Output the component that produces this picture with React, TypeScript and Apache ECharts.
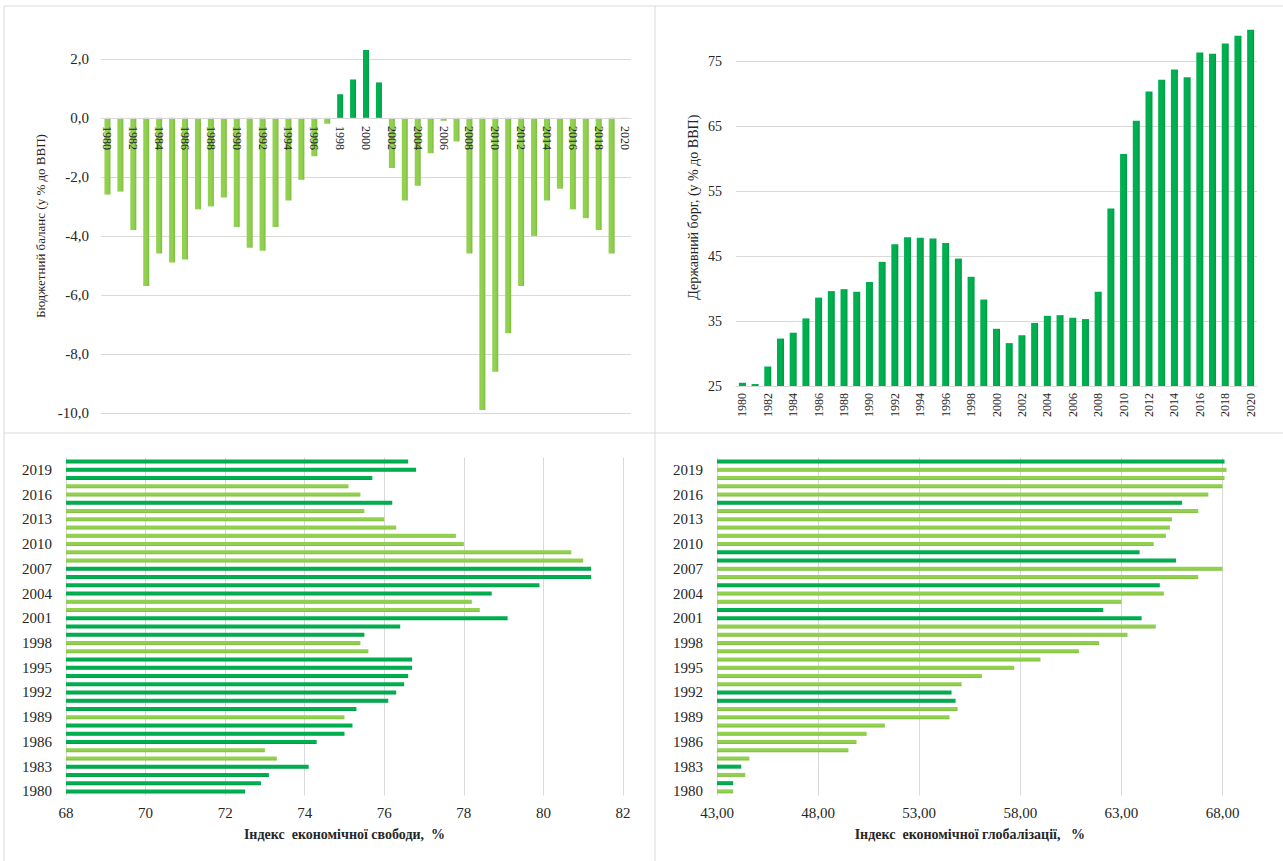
import React, { useEffect, useRef } from "react";
import * as echarts from "echarts";

const years = [
  "1980", "1981", "1982", "1983", "1984", "1985", "1986", "1987", "1988", "1989",
  "1990", "1991", "1992", "1993", "1994", "1995", "1996", "1997", "1998", "1999",
  "2000", "2001", "2002", "2003", "2004", "2005", "2006", "2007", "2008", "2009",
  "2010", "2011", "2012", "2013", "2014", "2015", "2016", "2017", "2018", "2019",
  "2020",
];

const budgetBalance = [
  -2.6, -2.5, -3.8, -5.7, -4.6, -4.9, -4.8, -3.1, -3.0, -2.7,
  -3.7, -4.4, -4.5, -3.7, -2.8, -2.1, -1.3, -0.2, 0.8, 1.3,
  2.3, 1.2, -1.7, -2.8, -2.3, -1.2, -0.1, -0.8, -4.6, -9.9,
  -8.6, -7.3, -5.7, -4.0, -2.8, -2.4, -3.1, -3.4, -3.8, -4.6,
  -0.03,
];

const publicDebt = [
  25.5, 25.3, 28.0, 32.3, 33.2, 35.4, 38.6, 39.6, 39.9, 39.5,
  41.0, 44.1, 46.8, 47.9, 47.8, 47.7, 47.0, 44.6, 41.8, 38.3,
  33.8, 31.6, 32.8, 34.7, 35.8, 35.9, 35.5, 35.3, 39.5, 52.3,
  60.7, 65.8, 70.3, 72.1, 73.7, 72.5, 76.3, 76.1, 77.7, 78.9,
  79.8,
];

const freedomIndex = [
  72.5, 72.9, 73.1, 74.1, 73.3, 73.0, 74.3, 75.0, 75.2, 75.0,
  75.3, 76.1, 76.3, 76.5, 76.6, 76.7, 76.7, 75.6, 75.4, 75.5,
  76.4, 79.1, 78.4, 78.2, 78.7, 79.9, 81.2, 81.2, 81.0, 80.7,
  78.0, 77.8, 76.3, 76.0, 75.5, 76.2, 75.4, 75.1, 75.7, 76.8,
  76.6,
];
const freedomDark = [
  1, 1, 1, 1, 0, 0, 1, 1, 1, 0,
  1, 1, 1, 1, 1, 1, 1, 0, 0, 1,
  1, 1, 0, 0, 1, 1, 1, 1, 0, 0,
  0, 0, 0, 0, 0, 1, 0, 0, 1, 1,
  1,
];

const globalizationIndex = [
  43.8, 43.8, 44.4, 44.2, 44.6, 49.5, 49.9, 50.4, 51.3, 54.5,
  54.9, 54.8, 54.6, 55.1, 56.1, 57.7, 59.0, 60.9, 61.9, 63.3,
  64.7, 64.0, 62.1, 63.0, 65.1, 64.9, 66.8, 68.0, 65.7, 63.9,
  64.6, 65.2, 65.4, 65.5, 66.8, 66.0, 67.3, 68.0, 68.1, 68.2,
  68.1,
];
const globalizationDark = [
  0, 1, 0, 1, 0, 0, 0, 0, 0, 0,
  0, 1, 1, 0, 0, 0, 0, 0, 0, 0,
  0, 1, 1, 0, 0, 1, 0, 0, 1, 1,
  0, 0, 0, 0, 0, 1, 0, 0, 0, 0,
  1,
];

const DARK = "#00B050";
const DARK_EDGE = "#009A44";
const LIGHT = "#92D050";
const LIGHT_EDGE = "#7DBB3C";
const GRID = "#D9D9D9";
const TEXT = "#262626";
const FONT = "'Liberation Serif', 'Times New Roman', serif";

const vGrad = (c1: string, c2: string) =>
  new echarts.graphic.LinearGradient(0, 0, 1, 0, [
    { offset: 0, color: c1 },
    { offset: 0.6, color: c1 },
    { offset: 1, color: c2 },
  ]);
const hGrad = (c1: string, c2: string) =>
  new echarts.graphic.LinearGradient(0, 0, 0, 1, [
    { offset: 0, color: c1 },
    { offset: 0.6, color: c1 },
    { offset: 1, color: c2 },
  ]);

const comma = (d: number) => (v: number) => v.toFixed(d).replace(".", ",");

export default function App() {
  const ref = useRef<HTMLDivElement>(null);
  useEffect(() => {
    if (!ref.current) return;
    const chart = echarts.init(ref.current, undefined, { renderer: "svg" });
    const labelBase = { color: TEXT, fontFamily: FONT };
    const option: any = {
      animation: false,
      backgroundColor: "#ffffff",
      textStyle: { fontFamily: FONT, color: TEXT },
      graphic: [
        { type: "line", shape: { x1: 4, y1: 6, x2: 1283, y2: 6 }, style: { stroke: GRID, lineWidth: 1 } },
        { type: "line", shape: { x1: 4, y1: 6, x2: 4, y2: 861 }, style: { stroke: GRID, lineWidth: 1 } },
        { type: "line", shape: { x1: 655, y1: 6, x2: 655, y2: 861 }, style: { stroke: GRID, lineWidth: 1 } },
        { type: "line", shape: { x1: 4, y1: 433, x2: 1283, y2: 433 }, style: { stroke: GRID, lineWidth: 1 } },
      ],
      grid: [
        { left: 101, top: 47, width: 530, height: 366 },
        { left: 736, top: 28.5, width: 521, height: 357.5 },
        { left: 66, top: 457.5, width: 557, height: 338 },
        { left: 717, top: 457.5, width: 513.6, height: 338 },
      ],
      xAxis: [
        {
          gridIndex: 0,
          type: "category",
          data: years,
          z: 10,
          offset: -295,
          axisLine: { onZero: false, lineStyle: { color: GRID } },
          axisTick: { show: false },
          axisLabel: { ...labelBase, fontSize: 12, rotate: -90, interval: 1, margin: 8 },
        },
        {
          gridIndex: 1,
          type: "category",
          data: years,
          axisLine: { lineStyle: { color: GRID } },
          axisTick: { show: false },
          axisLabel: { ...labelBase, fontSize: 12, rotate: 90, interval: 1, margin: 7 },
        },
        {
          gridIndex: 2,
          type: "value",
          min: 68,
          max: 82,
          interval: 2,
          axisLine: { show: false },
          axisTick: { show: false },
          splitLine: { lineStyle: { color: GRID } },
          axisLabel: { ...labelBase, fontSize: 15, margin: 10 },
          name: "Індекс  економічної свободи,  %",
          nameLocation: "middle",
          nameGap: 32,
          nameTextStyle: { ...labelBase, fontSize: 14, fontWeight: "bold" },
        },
        {
          gridIndex: 3,
          type: "value",
          min: 43,
          max: 68.4,
          interval: 5,
          axisLine: { show: false },
          axisTick: { show: false },
          splitLine: { showMaxLine: false, lineStyle: { color: GRID } },
          axisLabel: { ...labelBase, fontSize: 15, margin: 10, showMaxLabel: false, formatter: comma(2) },
          name: "Індекс  економічної глобалізації,   %",
          nameLocation: "middle",
          nameGap: 32,
          nameTextStyle: { ...labelBase, fontSize: 14, fontWeight: "bold", padding: [0, 0, 0, -8] },
        },
      ],
      yAxis: [
        {
          gridIndex: 0,
          type: "value",
          min: -10,
          max: 2.4,
          interval: 2,
          axisLine: { show: false },
          axisTick: { show: false },
          splitLine: { showMaxLine: false, lineStyle: { color: GRID } },
          axisLabel: { ...labelBase, fontSize: 15, margin: 12, showMaxLabel: false, formatter: comma(1) },
          name: "Бюджетний баланс (у % до ВВП)",
          nameLocation: "middle",
          nameGap: 54,
          nameTextStyle: { ...labelBase, fontSize: 13, padding: [0, 0, 0, 8] },
        },
        {
          gridIndex: 1,
          type: "value",
          min: 25,
          max: 80,
          interval: 10,
          axisLine: { show: false },
          axisTick: { show: false },
          splitLine: { showMaxLine: false, lineStyle: { color: GRID } },
          axisLabel: { ...labelBase, fontSize: 14, margin: 14, showMaxLabel: false },
          name: "Державний борг, (у % до ВВП)",
          nameLocation: "middle",
          nameGap: 36,
          nameTextStyle: { ...labelBase, fontSize: 14 },
        },
        {
          gridIndex: 2,
          type: "category",
          data: years,
          axisLine: { show: false },
          axisTick: { show: false },
          axisLabel: { ...labelBase, fontSize: 15, interval: 2, margin: 14 },
        },
        {
          gridIndex: 3,
          type: "category",
          data: years,
          axisLine: { show: false },
          axisTick: { show: false },
          axisLabel: { ...labelBase, fontSize: 15, interval: 2, margin: 14 },
        },
      ],
      series: [
        {
          type: "bar",
          xAxisIndex: 0,
          yAxisIndex: 0,
          barWidth: 6,
          data: budgetBalance.map((v) => ({
            value: v,
            itemStyle: { color: v > 0 ? vGrad(DARK, DARK_EDGE) : vGrad(LIGHT, LIGHT_EDGE) },
          })),
        },
        {
          type: "bar",
          xAxisIndex: 1,
          yAxisIndex: 1,
          barWidth: 7,
          itemStyle: { color: vGrad(DARK, DARK_EDGE) },
          data: publicDebt,
        },
        {
          type: "bar",
          xAxisIndex: 2,
          yAxisIndex: 2,
          barWidth: 4,
          data: freedomIndex.map((v, i) => ({
            value: v,
            itemStyle: { color: freedomDark[i] ? hGrad(DARK, DARK_EDGE) : hGrad(LIGHT, LIGHT_EDGE) },
          })),
        },
        {
          type: "bar",
          xAxisIndex: 3,
          yAxisIndex: 3,
          barWidth: 4,
          data: globalizationIndex.map((v, i) => ({
            value: v,
            itemStyle: { color: globalizationDark[i] ? hGrad(DARK, DARK_EDGE) : hGrad(LIGHT, LIGHT_EDGE) },
          })),
        },
      ],
    };
    chart.setOption(option);
    return () => chart.dispose();
  }, []);
  return (
    <div
      ref={ref}
      style={{ position: "absolute", left: 0, top: 0, width: 1283, height: 861 }}
    />
  );
}
